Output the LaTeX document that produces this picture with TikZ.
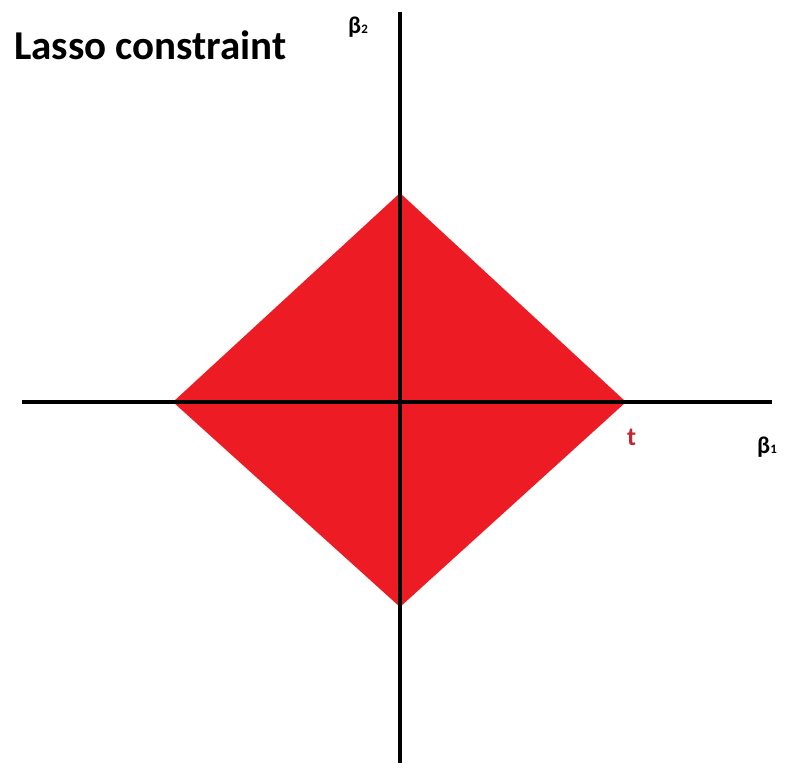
\documentclass[tikz,border=0pt]{standalone}
\usepackage{fontspec}
\setmainfont{Carlito}
\definecolor{lassored}{HTML}{ED1C24}
\definecolor{tred}{HTML}{C1272D}
\begin{document}
\begin{tikzpicture}[x=1pt,y=-1pt,
  axis/.style={line width=4pt,black},
  region/.style={fill=lassored,draw=none},
  lbl/.style={inner sep=0pt,font=\bfseries}]
\useasboundingbox[fill=white] (0,0) rectangle (785,765);
\coordinate (T) at (400,193);
\coordinate (R) at (626,402);
\coordinate (B) at (400,607);
\coordinate (L) at (173,402);
\fill[region] (T) -- (R) -- (B) -- (L) -- cycle;
\coordinate (xl) at (22,402);
\coordinate (xr) at (772,402);
\coordinate (yt) at (399.5,12);
\coordinate (yb) at (399.5,763);
\draw[axis] (xl) -- (xr);
\draw[axis] (yt) -- (yb);
\node[lbl,anchor=base west,font=\bfseries\fontsize{41}{41}\selectfont] (title) at (14,60) {Lasso constraint};
\node[lbl,anchor=base west,font=\bfseries\fontsize{24}{24}\selectfont] (b2) at (348,34) {β\raisebox{0pt}{\fontsize{13}{13}\selectfont 2}};
\node[lbl,anchor=base west,font=\bfseries\fontsize{24}{24}\selectfont] (b1) at (757,453) {β\raisebox{0pt}{\fontsize{13}{13}\selectfont 1}};
\node[lbl,anchor=base west,text=tred,font=\bfseries\fontsize{26}{26}\selectfont] (t) at (627,445) {t};
\end{tikzpicture}
\end{document}
